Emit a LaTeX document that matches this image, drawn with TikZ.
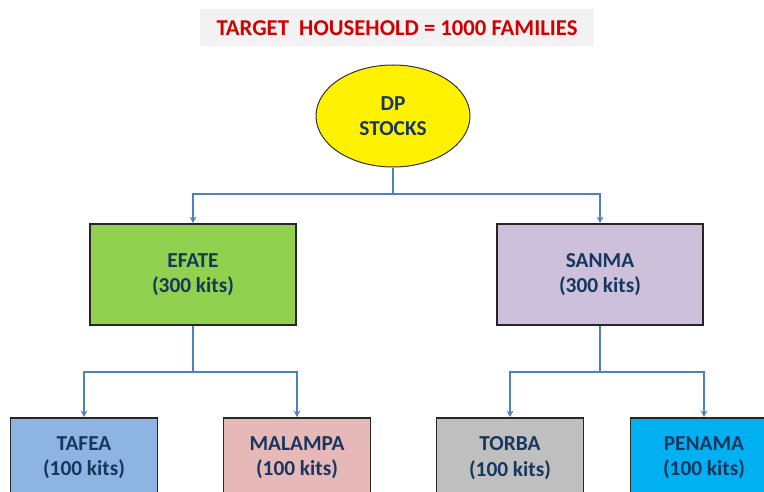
\documentclass[tikz,border=0pt]{standalone}
\usepackage{fontspec}
\setmainfont{Carlito}
\usetikzlibrary{shapes.geometric,arrows.meta}

\definecolor{navytext}{RGB}{23,55,94}
\definecolor{linkblue}{RGB}{79,129,189}
\definecolor{titlered}{RGB}{210,0,0}
\definecolor{titlegray}{RGB}{242,242,242}
\definecolor{efategreen}{RGB}{146,208,80}
\definecolor{sanmalilac}{RGB}{204,192,218}
\definecolor{tafeablue}{RGB}{141,180,226}
\definecolor{malampapink}{RGB}{230,184,183}
\definecolor{torbagray}{RGB}{191,191,191}
\definecolor{penamacyan}{RGB}{0,176,240}

\tikzset{every picture/.style={line width=0.75pt}}
\tikzset{
  lbl/.style={font=\bfseries\fontsize{16}{19}\selectfont, text=navytext, align=center},
  provbox/.style={lbl, draw=black!85, line width=1.2pt, minimum width=154.5pt, minimum height=75.75pt, inner sep=0pt},
  islbox/.style={lbl, draw=black!85, line width=1.2pt, minimum width=110.25pt, minimum height=60pt, inner sep=0pt},
  link/.style={draw=linkblue, line width=1.2pt, -{Stealth[length=5pt,width=5pt]}}
}

\begin{document}
\begin{tikzpicture}[x=0.75pt,y=0.75pt,yscale=-1,xscale=1]
			\clip (0,0) rectangle (764,492);

			% Text Node
			\node (title) at (397,28) [fill=titlegray, minimum width=295.5pt, minimum height=27.75pt, inner sep=0pt, text=titlered, font=\bfseries\fontsize{17}{20}\selectfont] {TARGET\ \ HOUSEHOLD = 1000 FAMILIES};

			%Shape: Ellipse
			\node (dp) at (393,116) [lbl, ellipse, draw=black!80, fill=yellow, minimum width=115.5pt, minimum height=76.5pt, inner sep=0pt] {DP\\STOCKS};

			%Shape: Rectangle
			\node (efate) at (193,274.5) [provbox, fill=efategreen] {EFATE\\(300 kits)};
			\node (sanma) at (600,274.5) [provbox, fill=sanmalilac] {SANMA\\(300 kits)};

			%Shape: Rectangle
			\node (tafea) at (84,458) [islbox, fill=tafeablue] {TAFEA\\(100 kits)};
			\node (malampa) at (297,458) [islbox, fill=malampapink] {MALAMPA\\(100 kits)};
			\node (torba) at (510,458) [islbox, fill=torbagray] {TORBA\\(100 kits)};
			\node (penama) at (704,458) [islbox, fill=penamacyan] {PENAMA\\(100 kits)};

			% Connectors
			\coordinate (jdp) at (393,194);
			\coordinate (jefate) at (193,372);
			\coordinate (jsanma) at (600,372);
			\draw [link] (dp.south) -- (jdp) -| (efate.north);
			\draw [link] (jdp) -| (sanma.north);
			\draw [link] (efate.south) -- (jefate) -| (tafea.north);
			\draw [link] (jefate) -| (malampa.north);
			\draw [link] (sanma.south) -- (jsanma) -| (torba.north);
			\draw [link] (jsanma) -| (penama.north);

		\end{tikzpicture}
\end{document}
